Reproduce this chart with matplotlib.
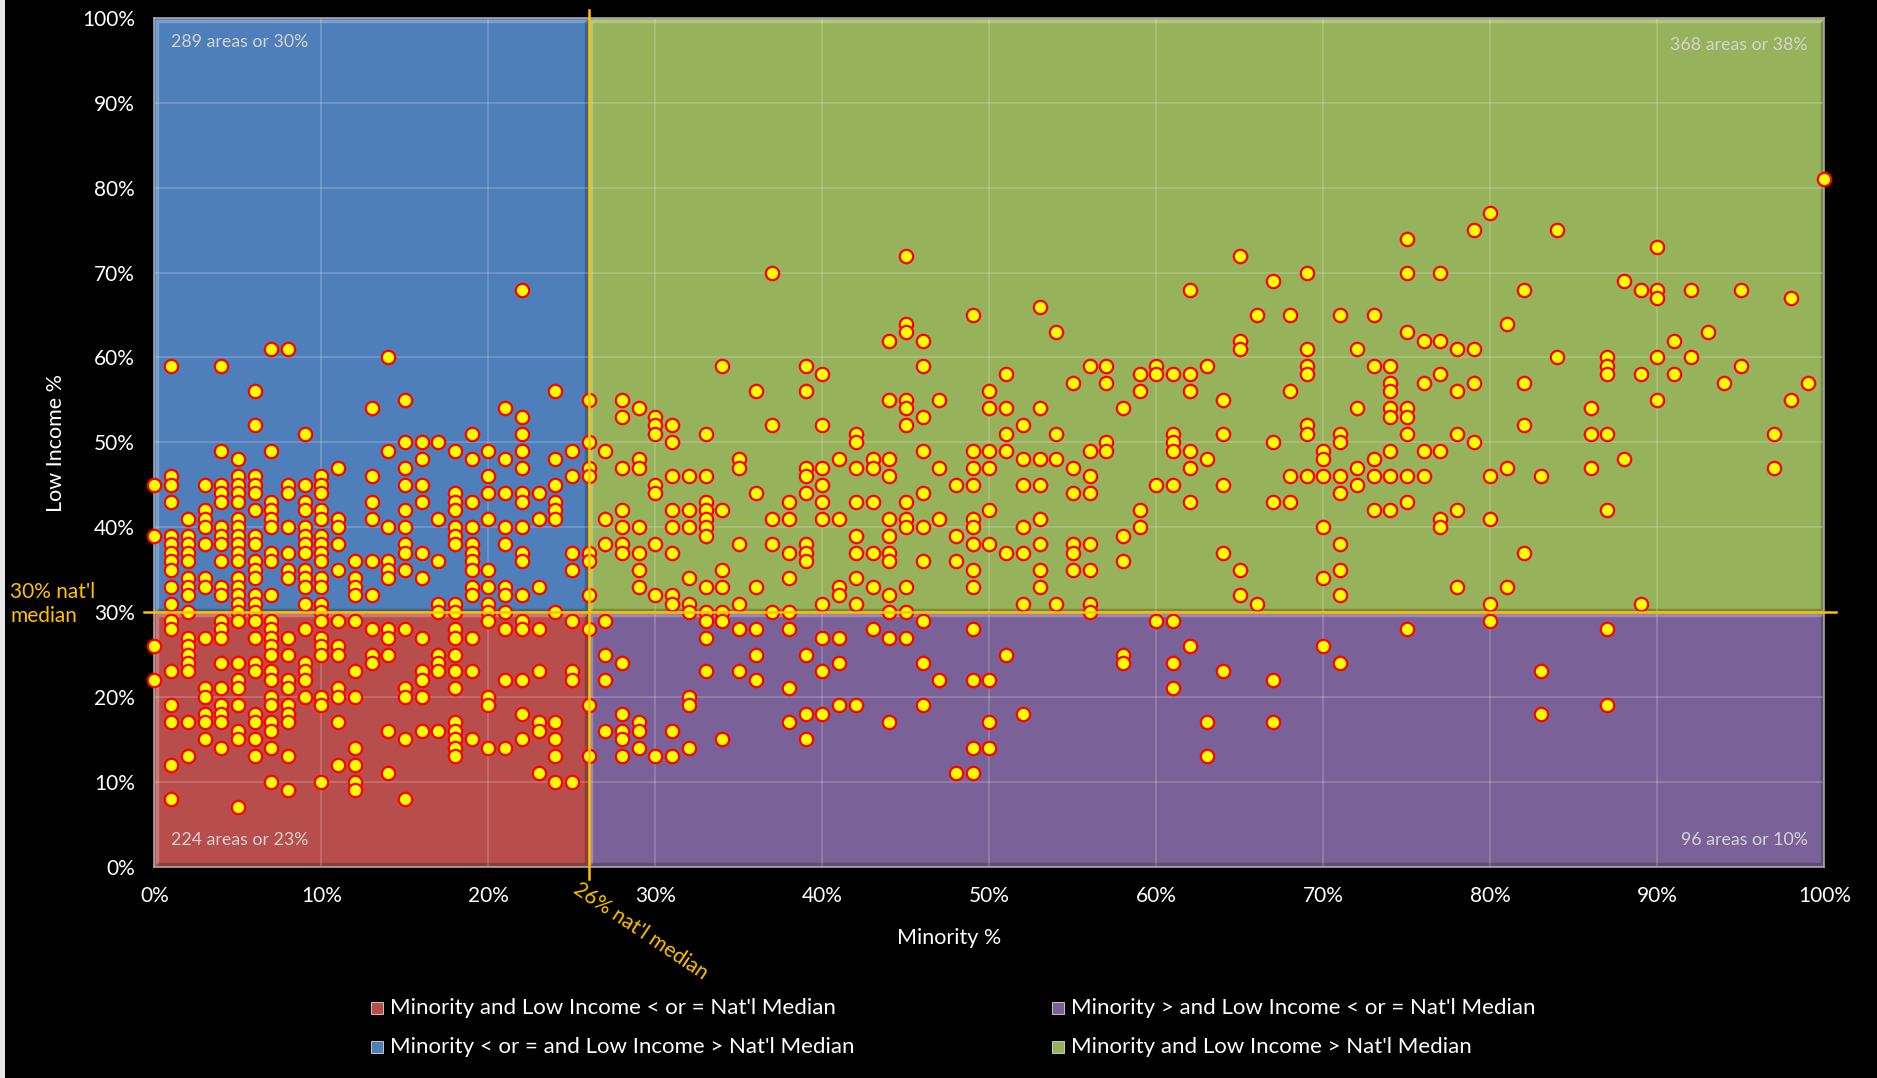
import matplotlib
matplotlib.use('Agg')
import matplotlib.pyplot as plt
from matplotlib.patches import Rectangle

plt.rcParams['font.family'] = ['Lato', 'DejaVu Sans']

# minority % of each column of areas, and the low income % values found in that column
minority_pct = [0, 1, 2, 3, 4, 5, 6, 7, 8, 9, 10, 11, 12, 13, 14, 15, 16, 17, 18, 19,
                20, 21, 22, 23, 24, 25, 26, 27, 28, 29, 30, 31, 32, 33, 34, 35, 36, 37, 38, 39,
                40, 41, 42, 43, 44, 45, 46, 47, 48, 49, 50, 51, 52, 53, 54, 55, 56, 57, 58, 59,
                60, 61, 62, 63, 64, 65, 66, 67, 68, 69, 70, 71, 72, 73, 74, 75, 76, 77, 78, 79,
                80, 81, 82, 83, 84, 86, 87, 88, 89, 90, 91, 92, 93, 94, 95, 97, 98, 99, 100]
low_income_pct = [
    [45, 39, 26, 22],
    [59, 46, 45, 43, 39, 38, 37, 36, 35, 33, 31, 29, 28, 23, 19, 17, 12, 8],
    [41, 39, 38, 37, 36, 34, 33, 32, 30, 27, 26, 25, 24, 23, 17, 13],
    [45, 42, 41, 40, 38, 34, 33, 27, 21, 20, 18, 17, 15],
    [59, 49, 45, 44, 43, 40, 39, 38, 36, 33, 32, 29, 28, 27, 24, 21, 19, 18, 17, 14],
    [48, 46, 45, 44, 43, 41, 40, 39, 38, 37, 36, 34, 33, 32, 31, 30, 29, 24, 22, 21, 19, 16, 15, 7],
    [56, 52, 46, 45, 44, 42, 39, 38, 36, 35, 34, 32, 31, 30, 29, 27, 24, 23, 18, 17, 15, 13],
    [61, 49, 43, 42, 41, 40, 37, 36, 32, 29, 28, 27, 26, 25, 23, 22, 20, 19, 17, 16, 14, 10],
    [61, 45, 44, 40, 37, 35, 34, 27, 25, 22, 21, 19, 18, 17, 13, 9],
    [51, 45, 43, 42, 40, 39, 38, 37, 35, 34, 33, 31, 28, 24, 23, 22, 20],
    [46, 45, 44, 42, 41, 39, 38, 37, 36, 34, 33, 31, 30, 29, 27, 26, 25, 20, 19, 10],
    [47, 41, 40, 38, 35, 29, 26, 25, 21, 20, 17, 12],
    [36, 34, 33, 32, 29, 23, 20, 14, 12, 10, 9],
    [54, 46, 43, 41, 36, 32, 28, 25, 24],
    [60, 49, 40, 36, 35, 34, 28, 27, 25, 16, 11],
    [55, 50, 47, 45, 42, 40, 38, 37, 35, 28, 21, 20, 15, 8],
    [50, 48, 45, 43, 37, 34, 27, 23, 22, 20, 16],
    [50, 41, 36, 31, 30, 25, 24, 23, 16],
    [49, 44, 43, 42, 40, 39, 38, 31, 30, 28, 27, 25, 23, 21, 17, 16, 15, 14, 13],
    [51, 48, 43, 40, 38, 37, 36, 35, 33, 32, 27, 23, 15],
    [49, 46, 44, 41, 35, 33, 31, 30, 29, 20, 19, 14],
    [54, 48, 44, 40, 38, 33, 32, 30, 28, 22, 14],
    [68, 53, 51, 49, 47, 44, 43, 40, 37, 36, 32, 29, 28, 22, 18, 15],
    [44, 41, 33, 28, 23, 17, 16, 11],
    [56, 48, 45, 43, 42, 41, 30, 17, 15, 13, 10],
    [49, 46, 37, 35, 29, 23, 22, 10],
    [55, 50, 47, 46, 37, 36, 32, 28, 19, 13],
    [49, 41, 38, 29, 25, 22, 16],
    [55, 53, 47, 42, 40, 38, 37, 24, 18, 16, 15, 13],
    [54, 48, 47, 40, 37, 35, 33, 17, 16, 14],
    [53, 52, 51, 45, 44, 38, 32, 13],
    [52, 50, 46, 42, 40, 37, 32, 31, 16, 13],
    [46, 42, 40, 34, 31, 30, 20, 19, 14],
    [51, 46, 43, 42, 41, 40, 39, 33, 30, 29, 27, 23],
    [59, 42, 35, 33, 30, 29, 15],
    [48, 47, 38, 31, 28, 23],
    [56, 44, 33, 28, 25, 22],
    [70, 52, 41, 38, 30],
    [43, 41, 37, 34, 30, 28, 21, 17],
    [59, 56, 47, 46, 44, 38, 37, 36, 25, 18, 15],
    [58, 52, 47, 45, 43, 41, 31, 27, 23, 18],
    [48, 41, 33, 32, 27, 24, 19],
    [51, 50, 47, 43, 39, 37, 34, 31, 19],
    [48, 47, 43, 37, 33, 28],
    [62, 55, 48, 46, 41, 39, 37, 36, 32, 30, 27, 17],
    [72, 64, 63, 55, 54, 52, 43, 41, 40, 33, 30, 27],
    [62, 59, 53, 49, 44, 40, 36, 29, 24, 19],
    [55, 47, 41, 22],
    [45, 39, 36, 11],
    [65, 49, 47, 45, 41, 40, 38, 35, 33, 28, 22, 14, 11],
    [56, 54, 49, 47, 42, 38, 22, 17, 14],
    [58, 54, 51, 49, 37, 25],
    [52, 48, 45, 40, 37, 31, 18],
    [66, 54, 48, 45, 41, 38, 35, 33],
    [63, 51, 48, 31],
    [57, 47, 44, 38, 37, 35],
    [59, 49, 46, 44, 38, 35, 31, 30],
    [59, 57, 50, 49],
    [54, 39, 36, 25, 24],
    [58, 56, 42, 40],
    [59, 58, 45, 29],
    [58, 51, 50, 49, 45, 29, 24, 21],
    [68, 58, 56, 49, 47, 43, 26],
    [59, 48, 17, 13],
    [55, 51, 45, 37, 23],
    [72, 62, 61, 35, 32],
    [65, 31],
    [69, 50, 43, 22, 17],
    [65, 56, 46, 43],
    [70, 61, 59, 58, 52, 51, 46],
    [49, 48, 46, 40, 34, 26],
    [65, 51, 50, 46, 44, 38, 35, 32, 24],
    [61, 54, 47, 45],
    [65, 59, 48, 46, 42],
    [59, 57, 56, 54, 53, 49, 46, 42],
    [74, 70, 63, 54, 53, 51, 46, 43, 28],
    [62, 57, 49, 46],
    [70, 62, 58, 49, 41, 40],
    [61, 56, 51, 42, 33],
    [75, 61, 57, 50],
    [77, 46, 41, 31, 29],
    [64, 47, 33],
    [68, 57, 52, 37],
    [46, 23, 18],
    [75, 60],
    [54, 51, 47],
    [60, 59, 58, 51, 42, 28, 19],
    [69, 48],
    [68, 58, 31],
    [73, 68, 67, 60, 55],
    [62, 58],
    [68, 60],
    [63],
    [57],
    [68, 59],
    [51, 47],
    [67, 55],
    [57],
    [81],
]

median_minority = 26
median_income = 30

quadrant_text = ['289 areas or 30%', '368 areas or 38%', '224 areas or 23%', '96 areas or 10%']
legend_labels = ["Minority and Low Income < or = Nat'l Median",
                 "Minority > and Low Income < or = Nat'l Median",
                 "Minority < or = and Low Income > Nat'l Median",
                 "Minority and Low Income > Nat'l Median"]
tick_values = list(range(0, 101, 10))
tick_labels = ['%d%%' % v for v in tick_values]

c_blue = '#4F7FBA'
c_green = '#96B25A'
c_red = '#B74E4B'
c_purple = '#7A6298'
c_orange = '#FFC000'

W, H = 1877, 1078
fig = plt.figure(figsize=(W / 100, H / 100), dpi=100)
fig.patch.set_facecolor('black')
fig.patches.append(Rectangle((0, 0), 5 / W, 1, transform=fig.transFigure,
                             facecolor='#E8E8E8', edgecolor='none'))

ax = fig.add_axes([154.4 / W, 1 - 866.7 / H, 1670 / W, 848.7 / H])
ax.set_facecolor('black')
ax.set_xlim(0, 100)
ax.set_ylim(0, 100)

# quadrant fills
quads = [(0, median_income, median_minority, 100 - median_income, c_blue),
         (median_minority, median_income, 100 - median_minority, 100 - median_income, c_green),
         (0, 0, median_minority, median_income, c_red),
         (median_minority, 0, 100 - median_minority, median_income, c_purple)]
for x0, y0, w, h, col in quads:
    ax.add_patch(Rectangle((x0, y0), w, h, facecolor=col, edgecolor='none', zorder=1))
    # simple bevel: light top/left, dark bottom/right
    ax.plot([x0 + 0.15, x0 + 0.15, x0 + w - 0.15], [y0 + 0.3, y0 + h - 0.3, y0 + h - 0.3],
            color='white', alpha=0.25, lw=2.5, zorder=1.5, solid_capstyle='butt')
    ax.plot([x0 + 0.15, x0 + w - 0.15, x0 + w - 0.15], [y0 + 0.3, y0 + 0.3, y0 + h - 0.3],
            color='black', alpha=0.22, lw=2.5, zorder=1.5, solid_capstyle='butt')

ax.set_xticks(tick_values)
ax.set_yticks(tick_values)
ax.set_xticklabels(tick_labels)
ax.set_yticklabels(tick_labels)
ax.grid(True, color='white', alpha=0.2, lw=1.2, zorder=2)
ax.set_axisbelow(False)
ax.tick_params(length=0, labelsize=15, labelcolor='white', pad=14)
for sp in ax.spines.values():
    sp.set_color('#A6A6A6')
    sp.set_linewidth(1.2)
    sp.set_zorder(3)

xs, ys = [], []
for m, vals in zip(minority_pct, low_income_pct):
    for v in vals:
        xs.append(m)
        ys.append(v)
ax.scatter(xs, ys, s=92, c='#FFFF00', edgecolors='#FF0000', linewidths=1.6,
           zorder=5, clip_on=False)

# national median lines
ax.plot([median_minority, median_minority], [-1.5, 101], color=c_orange, lw=1.8,
        zorder=6, clip_on=False)
ax.plot([-0.6, 100.7], [median_income, median_income], color=c_orange, lw=1.8,
        zorder=6, clip_on=False)

qcol = '#D4D4D4'
ax.text(1.0, 97.2, quadrant_text[0], color=qcol, fontsize=12.8, ha='left', va='center', zorder=7)
ax.text(99.0, 96.8, quadrant_text[1], color=qcol, fontsize=12.8, ha='right', va='center', zorder=7)
ax.text(1.0, 3.1, quadrant_text[2], color=qcol, fontsize=12.8, ha='left', va='center', zorder=7)
ax.text(99.0, 3.1, quadrant_text[3], color=qcol, fontsize=12.8, ha='right', va='center', zorder=7)

fig.text(56 / W, 1 - 443 / H, 'Low Income %', rotation=90, color='white', fontsize=15.5,
         ha='center', va='center')
fig.text(949 / W, 1 - 938 / H, 'Minority %', color='white', fontsize=15.5,
         ha='center', va='center')
fig.text(10 / W, 1 - 604 / H, "30% nat'l\nmedian", color=c_orange, fontsize=15,
         ha='left', va='center', linespacing=1.2)
fig.text(641 / W, 1 - 931 / H, "26% nat'l median", color=c_orange, fontsize=15,
         rotation=-34, ha='center', va='center', rotation_mode='anchor')

# legend
leg_cols = [c_red, c_purple, c_blue, c_green]
leg_pos = [(377, 1008), (1058, 1008), (377, 1047), (1058, 1047)]
for lab, col, (px, py) in zip(legend_labels, leg_cols, leg_pos):
    fig.patches.append(Rectangle(((px - 6) / W, 1 - (py + 6) / H), 12 / W, 12 / H,
                                 transform=fig.transFigure, facecolor=col,
                                 edgecolor='#DDDDDD', lw=0.6))
    fig.text((px + 13) / W, 1 - py / H, lab, color='white', fontsize=16,
             ha='left', va='center')

fig.savefig('out.png', dpi=100, facecolor='black')
